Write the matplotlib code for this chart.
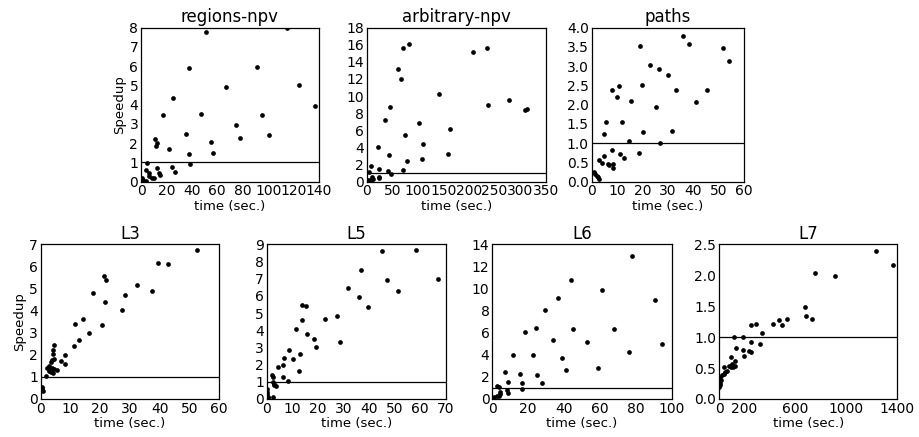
import numpy as np
import matplotlib
matplotlib.use("Agg")
import matplotlib.pyplot as plt

# -------- DATA --------

regions_t = [51.2, 115, 38, 91.3, 66.9, 124.4, 137, 24.9, 17, 47, 94.8, 75, 35.7, 100.8,
             78.2, 10.8, 12.9, 12.1, 54.9, 22.3, 57, 37.5, 4.7, 38.8, 24.4, 12.3, 27,
             3.9, 6, 13.9, 15.2, 6.6, 8.4, 10.2, 0.5, 1.3, 3.7]
regions_s = [7.76, 7.97, 5.89, 5.96, 4.93, 5.02, 3.95, 4.33, 3.48, 3.5, 3.46, 2.96, 2.48, 2.44,
             2.27, 2.23, 2.0, 1.87, 2.06, 1.71, 1.47, 1.44, 0.97, 0.9, 0.78, 0.71, 0.52,
             0.62, 0.43, 0.43, 0.33, 0.29, 0.21, 0.21, 0.21, 0.09, 0.05]

arbitrary_t = [82, 71.7, 62, 66.5, 208, 235, 141.5, 238, 278, 45, 36.5, 103, 163.6, 75,
               110.8, 21.5, 43.7, 159, 78, 108, 8.5, 24, 5.2, 41.7, 47.6, 71.7, 23.5,
               23.5, 10.4, 11.7, 1.3, 3.9, 6.5, 9.8, 310, 314]
arbitrary_s = [16.1, 15.55, 13.2, 12.0, 15.1, 15.6, 10.2, 9.0, 9.56, 8.7, 7.15, 6.88, 6.14, 5.48,
               4.43, 4.04, 3.15, 3.23, 2.41, 2.6, 1.83, 1.52, 1.09, 1.24, 0.93, 1.36, 0.58,
               0.43, 0.58, 0.35, 0.2, 0.2, 0.12, 0.27, 8.4, 8.5]

paths_t = [35.8, 38.3, 19, 23, 26.4, 30, 8.1, 10.9, 19.9, 33.3, 45.4, 10, 15.6, 41, 25.3,
           5.6, 12.1, 4.7, 20.2, 31.5, 14.6, 26.9, 8.1, 18.8, 11.3, 12.6, 5, 2.8, 4.2,
           6.3, 7, 8.5, 8.4, 0.9, 1.4, 2.1, 2.6, 3, 51.6, 54]
paths_s = [3.78, 3.56, 3.52, 3.02, 2.92, 2.76, 2.39, 2.49, 2.51, 2.38, 2.37, 2.2, 2.1, 2.06, 1.94,
           1.56, 1.55, 1.25, 1.28, 1.32, 1.05, 1.01, 0.82, 0.75, 0.73, 0.61, 0.66, 0.56, 0.48,
           0.47, 0.43, 0.45, 0.36, 0.26, 0.2, 0.15, 0.13, 0.06, 3.48, 3.13]

l3_t = [52.5, 39.3, 42.9, 21.3, 21.9, 32.4, 37.3, 17.5, 28.4, 21.6, 27.2, 14.3, 11.4, 20.6,
        16.2, 12.8, 11.3, 4.6, 4.3, 4.3, 8.1, 4.6, 3.9, 6.7, 3.4, 8.1, 2.7, 2.2, 2.9, 3.7,
        4.4, 5.4, 2.8, 3.5, 4.1, 1.8, 0.3, 0.6, 0.4, 0.9]
l3_s = [6.76, 6.14, 6.09, 5.55, 5.37, 5.14, 4.89, 4.78, 4.72, 4.39, 4.03, 3.6, 3.39, 3.36,
        2.99, 2.67, 2.41, 2.44, 2.23, 2.02, 2.0, 1.82, 1.76, 1.73, 1.69, 1.6, 1.51, 1.39, 1.4, 1.39,
        1.34, 1.33, 1.27, 1.22, 1.19, 1.06, 0.56, 0.48, 0.41, 0.35]

l5_t = [45.2, 58.5, 37, 47.2, 67.1, 31.9, 51.5, 36.1, 13.9, 15.5, 39.5, 13.8, 27.4, 22.9,
        11.6, 15.8, 18.5, 19.4, 28.8, 8.9, 13, 6.8, 10.2, 4.4, 6.4, 12.6, 2.1, 2.3, 6.4,
        8.5, 2.6, 2.9, 3.5, 2.7, 0.3, 0.3, 0.3, 0.4, 2.5, 0.5]
l5_s = [8.63, 8.67, 7.53, 6.92, 7.0, 6.46, 6.3, 5.92, 5.45, 5.41, 5.35, 4.6, 4.85, 4.67,
        4.07, 3.78, 3.51, 3.05, 3.3, 2.87, 2.64, 2.39, 2.35, 1.84, 1.96, 1.61, 1.38, 1.26, 1.28,
        1.03, 1.01, 0.87, 0.76, 0.8, 0.56, 0.43, 0.27, 0.14, 0.14, 0.04]

l6_t = [78.1, 43.7, 61.3, 90.9, 36.8, 29.4, 24.5, 18.2, 44.8, 67.7, 33.8, 53, 94.8, 11.5,
        22.7, 39, 76.2, 41.3, 58.7, 6.9, 15.4, 24.7, 16.4, 27.9, 8.7, 16.7, 2.8, 3.9, 8.4,
        8.9, 4.5, 4.1, 3.5, 2.4, 0.9, 0.2, 0.6]
l6_s = [12.94, 10.74, 9.87, 8.93, 9.14, 8.09, 6.46, 6.03, 6.34, 6.34, 5.34, 5.13, 5.01, 3.98,
        3.98, 3.74, 4.22, 2.6, 2.78, 2.41, 2.26, 2.17, 1.48, 1.48, 1.51, 0.94, 1.18, 1.12, 0.78,
        0.51, 0.66, 0.45, 0.3, 0.27, 0.15, 0.09, 0.0]

l7_t = [1230, 1363, 756, 911, 675, 683, 733, 534, 471, 492, 421, 288, 251, 335, 118, 188,
        251, 322, 133, 186, 236, 249, 196, 97, 123, 81, 99, 113, 126, 92, 42, 65, 50, 37,
        21, 8, 16, 10, 5, 0]
l7_s = [2.39, 2.16, 2.03, 1.99, 1.48, 1.34, 1.30, 1.29, 1.27, 1.2, 1.22, 1.21, 1.19, 1.06, 1.01, 1.0,
        0.92, 0.89, 0.82, 0.79, 0.78, 0.76, 0.69, 0.68, 0.61, 0.54, 0.57, 0.52, 0.53, 0.51, 0.52,
        0.46, 0.43, 0.4, 0.38, 0.35, 0.31, 0.26, 0.23, 0.19]

# -------- PANELS --------
# (title, times, speedups, xmax, xticks, ymax, yticks, axes left/right px, top/bottom px, ylabel?)
W, H = 919, 437
top = (27.5, 181.7)
bot = (244.3, 399.0)

panels = [
    ("regions-npv", regions_t, regions_s, 140, np.arange(0, 141, 20), 8, np.arange(0, 9, 1), (141, 319), top, True),
    ("arbitrary-npv", arbitrary_t, arbitrary_s, 350, np.arange(0, 351, 50), 18, np.arange(0, 19, 2), (366.7, 545.7), top, False),
    ("paths", paths_t, paths_s, 60, np.arange(0, 61, 10), 4, np.arange(0, 4.01, 0.5), (591.7, 744), top, False),
    ("L3", l3_t, l3_s, 60, np.arange(0, 61, 10), 7, np.arange(0, 8, 1), (40.7, 219.3), bot, True),
    ("L5", l5_t, l5_s, 70, np.arange(0, 71, 10), 9, np.arange(0, 10, 1), (266.7, 445.7), bot, False),
    ("L6", l6_t, l6_s, 100, np.arange(0, 101, 20), 14, np.arange(0, 15, 2), (492.3, 671.7), bot, False),
    ("L7", l7_t, l7_s, 1400, [0, 200, 600, 1000, 1400], 2.5, np.arange(0, 2.51, 0.5), (719, 897.3), bot, False),
]

fig = plt.figure(figsize=(W / 100, H / 100), dpi=100)

for title, t, s, xmax, xt, ymax, yt, (x0, x1), (y0, y1), ylab in panels:
    ax = fig.add_axes([x0 / W, 1 - y1 / H, (x1 - x0) / W, (y1 - y0) / H])
    ax.plot(t, s, 'o', color='k', ms=3.4, mec='none')
    ax.axhline(1, color='k', lw=0.9)
    ax.set_xlim(0, xmax)
    ax.set_ylim(0, ymax)
    ax.set_xticks(xt)
    ax.set_yticks(yt)
    if ymax in (4, 2.5):
        ax.set_yticklabels(["%.1f" % v for v in yt])
    ax.tick_params(length=0, pad=2, labelsize=10)
    ax.set_title(title, fontsize=12, pad=4)
    ax.set_xlabel("time (sec.)", fontsize=9.5, labelpad=1)
    if ylab:
        ax.set_ylabel("Speedup", fontsize=9.5, labelpad=2)
    for sp in ax.spines.values():
        sp.set_linewidth(0.9)

plt.savefig("out.png", dpi=100)
